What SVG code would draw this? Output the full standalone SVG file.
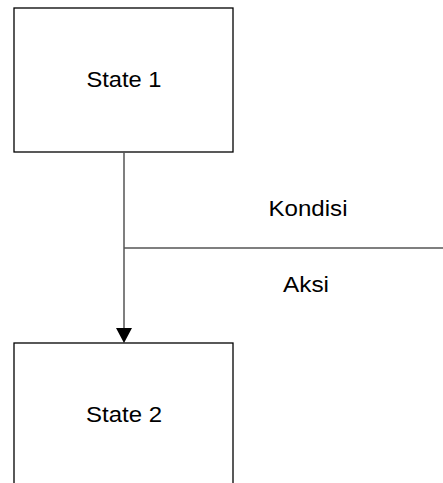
<svg xmlns="http://www.w3.org/2000/svg" width="443" height="483" viewBox="0 0 443 483">
<style>
.box{fill:#fff;stroke:#000;stroke-width:1.3}
.lbl{font-family:"Liberation Sans",Arial,sans-serif;font-size:22px;fill:#000}
.ln{stroke:#555;stroke-width:1.5;fill:none}
.head{fill:#000}
</style>
<rect width="443" height="483" fill="#fff"/>
<g id="state1">
<rect class="box" x="14" y="8" width="219" height="144"/>
<text class="lbl" x="124" y="87" text-anchor="middle" textLength="75" lengthAdjust="spacingAndGlyphs">State 1</text>
</g>
<g id="state2">
<rect class="box" x="14" y="343" width="219" height="160"/>
<text class="lbl" x="124" y="422" text-anchor="middle" textLength="76" lengthAdjust="spacingAndGlyphs">State 2</text>
</g>
<g id="connectors">
<line class="ln" x1="124" y1="152" x2="124" y2="328"/>
<path class="head" d="M116,328 L132,328 L124,343 Z"/>
<line class="ln" x1="124" y1="248" x2="443" y2="248"/>
</g>
<g id="labels">
<text class="lbl" x="308" y="216" text-anchor="middle" textLength="79" lengthAdjust="spacingAndGlyphs">Kondisi</text>
<text class="lbl" x="306" y="292" text-anchor="middle" textLength="46" lengthAdjust="spacingAndGlyphs">Aksi</text>
</g>
</svg>
